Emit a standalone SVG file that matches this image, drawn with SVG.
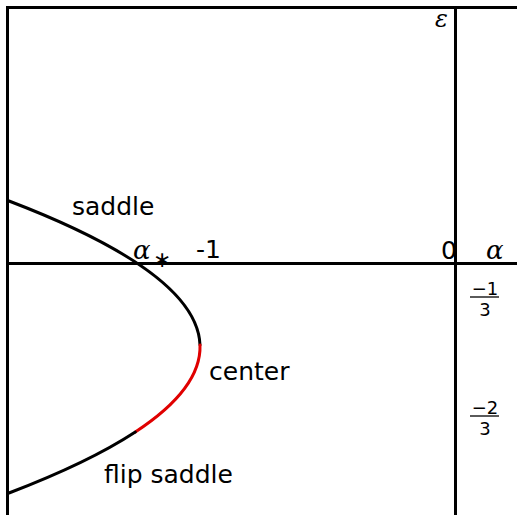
<svg xmlns="http://www.w3.org/2000/svg" width="517" height="515" viewBox="0 0 517 515">
<style>
.ax{stroke:#000;stroke-width:3;fill:none}
.cv{stroke:#000;stroke-width:3;fill:none;stroke-linecap:round}
.red{stroke:#e00000}
.lab{font-family:"DejaVu Sans",sans-serif;font-size:25px;fill:#000}
.num{font-family:"DejaVu Sans",sans-serif;font-size:18px;fill:#000;text-anchor:middle}
.math{font-family:"DejaVu Serif","Liberation Serif",serif;font-style:italic;fill:#000}
</style>
<rect width="517" height="515" fill="#fff"/>
<g id="axes">
<path class="ax" d="M7.5,515 V7.5 H517"/>
<path class="ax" d="M7.5,263.5 H517"/>
<path class="ax" d="M455.5,7.5 V515"/>
</g>
<g id="connectors">
<path class="cv" d="M9,201 Q197.4,273 200,345"/>
<path class="cv red" d="M200,345 Q201.5,388.5 135.3,432"/>
<path class="cv" d="M135.3,432 Q88.8,462.5 9,493"/>
</g>
<g id="labels">
<text class="lab" x="72" y="215">saddle</text>
<text class="lab" x="209" y="380">center</text>
<text class="lab" x="104" y="483">flip saddle</text>
<text class="lab" x="196" y="258">-1</text>
<text class="lab" x="441" y="259">0</text>
<text class="math" x="486" y="259" font-size="26">α</text>
<text class="math" x="133" y="259" font-size="26">α</text>
<text x="153" y="267" font-size="22" font-family="DejaVu Sans,sans-serif" fill="#000">∗</text>
<text class="math" x="435" y="27" font-size="24">ε</text>
<g id="frac1">
<text class="num" x="485" y="295">−1</text>
<line x1="470" y1="297" x2="499" y2="297" stroke="#000" stroke-width="1.3"/>
<text class="num" x="485" y="316">3</text>
</g>
<g id="frac2">
<text class="num" x="485" y="414">−2</text>
<line x1="470" y1="416" x2="499" y2="416" stroke="#000" stroke-width="1.3"/>
<text class="num" x="485" y="435">3</text>
</g>
</g>
</svg>
